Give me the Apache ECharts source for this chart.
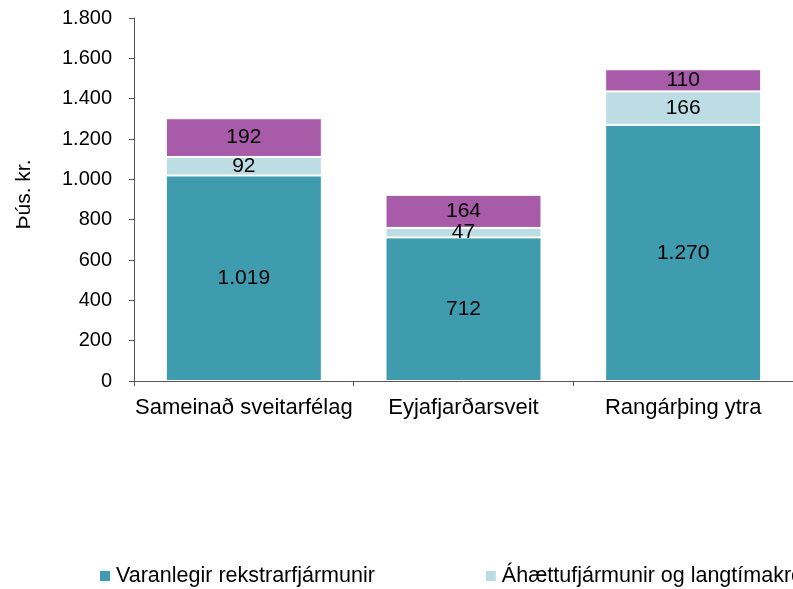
<!DOCTYPE html>
<html><head><meta charset="utf-8">
<script src="https://cdn.jsdelivr.net/npm/echarts@6/dist/echarts.min.js"></script>
<style>html,body{margin:0;padding:0;background:#fff}#c{width:793px;height:589px}</style>
</head><body><div id="c"></div>
<script>
const categories = ['Sameinað sveitarfélag', 'Eyjafjarðarsveit', 'Rangárþing ytra'];
const seriesNames = ['Varanlegir rekstrarfjármunir', 'Áhættufjármunir og langtímakröfur', 'Veltufjármunir'];
const varanlegir = [1019, 712, 1270];
const ahaettu = [92, 47, 166];
const veltu = [192, 164, 110];
const yTicks = [0, 200, 400, 600, 800, 1000, 1200, 1400, 1600, 1800];
const colors = ['#3F9BAE', '#BCDDE3', '#A85BA9'];

function fmt(v){ return String(v).replace(/\B(?=(\d{3})+(?!\d))/g, '.'); }
const FONT = '"Liberation Sans", Arial, sans-serif';
const chart = echarts.init(document.getElementById('c'));
const mk = (name, data, color) => ({
  name, type: 'bar', stack: 's', data, barWidth: '71%',
  itemStyle: { color, borderColor: '#fff', borderWidth: 1 },
  label: { show: true, position: 'inside', color: '#000', fontSize: 21, fontFamily: FONT,
           formatter: p => fmt(p.value) },
  emphasis: { disabled: true }
});
chart.setOption({
  animation: false,
  textStyle: { fontFamily: FONT },
  grid: { left: 134, right: -1, top: 18, bottom: 208, containLabel: false },
  legend: {
    left: 98, top: 565, width: 3000, padding: 0, itemWidth: 12, itemHeight: 12, itemGap: 109,
    icon: 'rect', textStyle: { fontSize: 21.5, color: '#000', fontFamily: FONT },
    data: seriesNames
  },
  xAxis: {
    type: 'category', data: categories,
    axisLine: { lineStyle: { color: '#555', width: 1 } },
    axisTick: { show: true, length: 5, lineStyle: { color: '#555' } },
    axisLabel: { color: '#000', fontSize: 22, margin: 16, fontFamily: FONT, interval: 0 }
  },
  yAxis: {
    type: 'value', min: yTicks[0], max: yTicks[yTicks.length-1], interval: 200,
    name: 'Þús. kr.', nameLocation: 'middle', nameGap: 99, nameRotate: 90,
    nameTextStyle: { color: '#000', fontSize: 21, fontFamily: FONT, padding: [0, 0, 0, 10] },
    axisLine: { show: true, lineStyle: { color: '#555', width: 1 } },
    axisTick: { show: true, length: 5, lineStyle: { color: '#555' } },
    splitLine: { show: false },
    axisLabel: { color: '#000', fontSize: 20, margin: 22, fontFamily: FONT, formatter: v => fmt(v) }
  },
  series: [
    mk(seriesNames[0], varanlegir, colors[0]),
    mk(seriesNames[1], ahaettu, colors[1]),
    mk(seriesNames[2], veltu, colors[2])
  ]
});
</script></body></html>
